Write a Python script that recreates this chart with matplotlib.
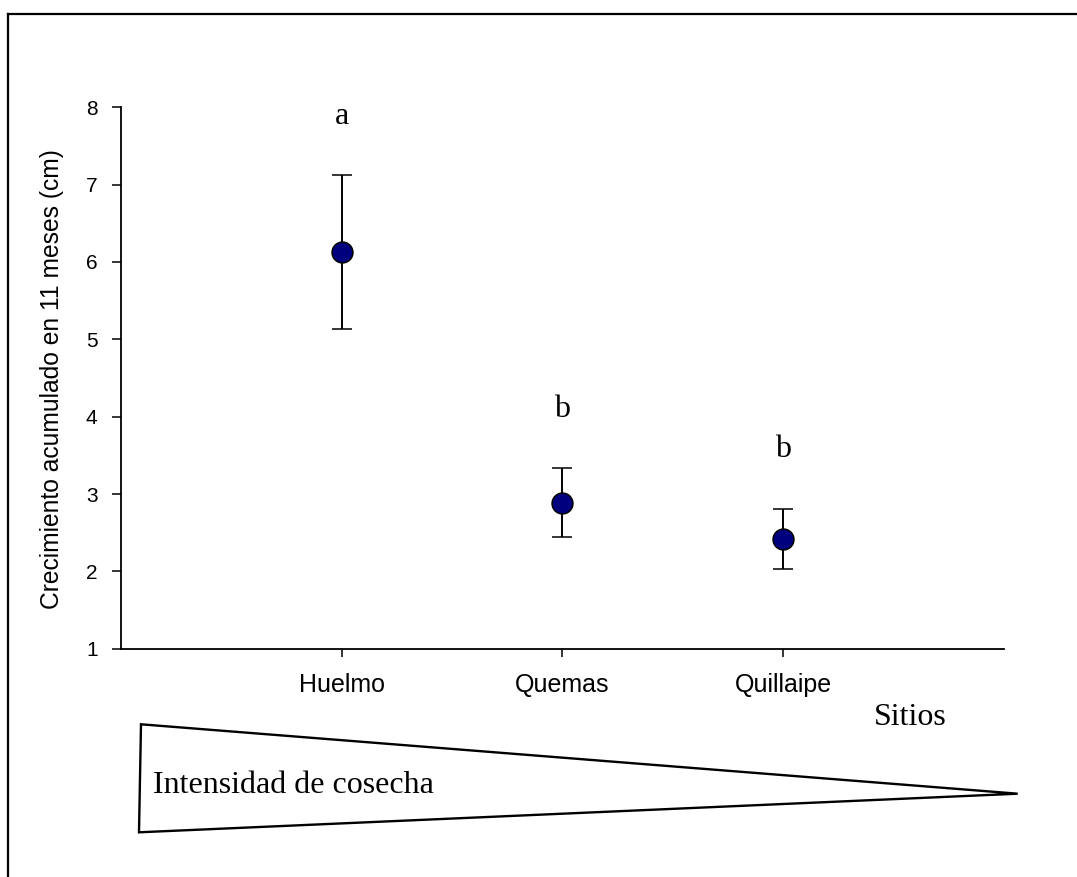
import matplotlib
matplotlib.use("Agg")
import matplotlib.pyplot as plt
from matplotlib.lines import Line2D
from matplotlib.patches import Polygon

# ---- data ----
sites = ["Huelmo", "Quemas", "Quillaipe"]
means = [6.13, 2.89, 2.42]
errors = [0.99, 0.44, 0.39]
letters = ["a", "b", "b"]
y_ticks = [1, 2, 3, 4, 5, 6, 7, 8]

W, H = 1077, 877
fig = plt.figure(figsize=(W / 100, H / 100), dpi=100)

def fx(px):
    return px / W

def fy(py):
    return 1 - py / H

ax = fig.add_axes([fx(120.7), fy(648.7), fx(1004) - fx(120.7), fy(107.3) - fy(648.7)])

x = list(range(1, len(sites) + 1))
ax.errorbar(x, means, yerr=errors, fmt="o", color="black", ecolor="black",
            elinewidth=1.4, capsize=7, capthick=1.4,
            markersize=15, markerfacecolor="#00007f", markeredgecolor="black",
            markeredgewidth=1.1, zorder=3)

for xi, m, e, lab in zip(x, means, errors, letters):
    ax.annotate(lab, xy=(xi, m + e), xytext=(0, 37), textcoords="offset points",
                ha="center", va="baseline", fontsize=23, family="Liberation Serif")

ax.set_xlim(0, len(sites) + 1)
ax.set_ylim(1, 8)
ax.set_xticks(x)
ax.set_xticklabels(sites, fontsize=18, family="Liberation Sans")
ax.set_yticks(y_ticks)
ax.set_yticklabels([str(t) for t in y_ticks], fontsize=15, family="Liberation Sans")
ax.tick_params(axis="y", direction="out", length=6.2, width=1.1, pad=10.5)
ax.tick_params(axis="x", direction="out", length=6, width=1.1, pad=11.5)
for s in ["top", "right"]:
    ax.spines[s].set_visible(False)
for s in ["left", "bottom"]:
    ax.spines[s].set_linewidth(1.3)

fig.text(fx(52), fy(379), "Crecimiento acumulado en 11 meses (cm)", rotation=90,
         ha="center", va="center", fontsize=17.7, family="Liberation Sans")

fig.text(fx(910.5), fy(725.3), "Sitios", ha="center", va="baseline",
         fontsize=23, family="Liberation Serif")

tri = Polygon([(fx(141), fy(724.3)), (fx(139), fy(832.3)), (fx(1017.7), fy(793.7))],
              closed=True, fill=False, edgecolor="black", linewidth=1.7,
              transform=fig.transFigure)
fig.add_artist(tri)
fig.text(fx(153), fy(793.3), "Intensidad de cosecha", ha="left", va="baseline",
         fontsize=23, family="Liberation Serif")

# outer frame (left and top edges visible)
fig.add_artist(Line2D([fx(8.3), fx(8.3)], [fy(14), 0], color="black", linewidth=1.6,
                      transform=fig.transFigure))
fig.add_artist(Line2D([fx(8.3), 1], [fy(14), fy(14)], color="black", linewidth=1.6,
                      transform=fig.transFigure))

fig.savefig("out.png", dpi=100)
